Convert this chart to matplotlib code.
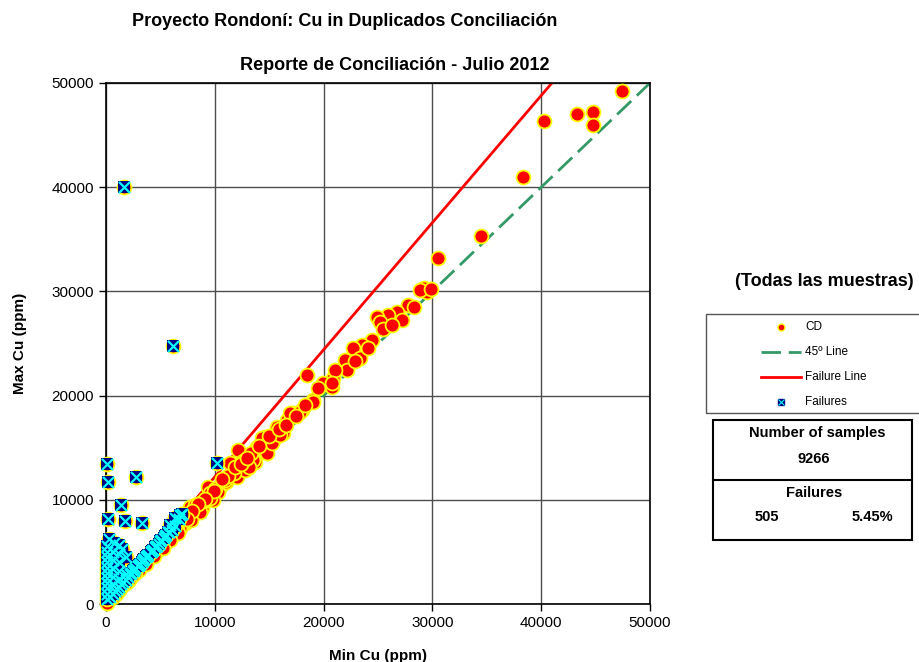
import matplotlib.pyplot as plt
from matplotlib.lines import Line2D
from matplotlib.patches import Rectangle

plt.rcParams['font.family'] = ['Liberation Sans', 'DejaVu Sans']

# CD duplicates (min, max)
cd_min = [47400, 44750, 44750, 43300, 40250, 38350, 34450, 30500,
          29200, 29500, 28900, 27750, 26750, 25900, 24900, 25200, 25450, 24450,
          23550, 22700, 23350, 21950, 22150, 20850, 21050, 19950, 20750, 18500,
          19000, 18000, 17200, 16650, 16250, 15700, 15350, 14600, 14350, 13900,
          13700, 14800, 12950, 12150, 11400, 12050, 12750, 10500, 10300, 9850,
          9400, 8200, 7700, 8650, 13500, 13150, 9550, 10000, 15250, 16000, 16900,
          17800, 19000, 19500, 20750, 29900, 28300, 27200, 26300, 24100, 22900,
          8800, 8400, 8000, 8200, 7600, 7300, 7000, 7200, 6800, 6500, 6200, 6000,
          5700, 5400, 5100, 4800, 4500, 4200, 3900, 3600, 3300, 3000, 2700, 2400,
          2100, 1800, 1500, 1200, 900, 600, 300, 100, 9000, 9600, 8600, 7800,
          6600, 5900, 5200, 4400, 3700, 11000, 11800, 12600, 13300, 10900,
          11200, 11900, 12400, 13000, 14100, 15000, 15900, 16500, 17500, 18300,
          10700, 9900, 9100, 8500, 7900, 7400]
cd_max = [49200, 47200, 45950, 47000, 46400, 40950, 35300, 33200,
          30300, 29950, 30100, 28700, 28000, 27750, 27550, 27050, 26400, 25350,
          24850, 24550, 23600, 23400, 22450, 21700, 22450, 21200, 20800, 21950,
          19600, 18600, 18300, 17650, 16400, 17000, 15750, 16000, 15900, 15050,
          13650, 14500, 14100, 14800, 13550, 12200, 12850, 11250, 10750, 10000,
          11250, 8750, 9300, 9700, 13800, 13150, 10650, 11000, 15450, 16200, 18300,
          18400, 19400, 20700, 21200, 30200, 28500, 27300, 26800, 24600, 23300,
          9200, 8900, 8700, 9500, 8300, 7800, 7700, 8600, 7300, 7200, 6700, 6900,
          6200, 5900, 5700, 5200, 5000, 4600, 4300, 3900, 3700, 3300, 3000, 2700,
          2300, 2000, 1700, 1350, 1000, 700, 350, 120, 9900, 10200, 8800, 8100,
          6800, 6100, 5400, 4600, 3800, 11700, 12600, 13700, 14500, 11900,
          12300, 13100, 13400, 14000, 15200, 16100, 16800, 17200, 18000, 19100,
          12000, 10800, 10100, 9600, 8900, 8200]

# failures (min, max)
fail_min = [1700, 6150, 100, 200, 2750, 1400, 200, 1750, 3300, 10200, 6800, 6350, 5900,
            100, 100, 100, 100, 100, 100, 100, 100, 100, 100, 100,
            600, 600, 600, 600, 600, 600,
            1200, 1200, 1200, 1200, 1200, 1200,
            1800, 1800, 1800,
            2300, 2700, 3100, 3500, 3900, 4300, 4700, 5100, 5500, 6300, 6700, 7000,
            2500, 2900, 3300, 3700, 4100, 4500, 4900, 5300, 5700, 6100,
            400, 800, 1000, 1400, 1600, 2000, 2200, 2600, 3000, 3400, 3800, 4200,
            4600, 5000, 5400, 5800, 300, 700, 1500]
fail_max = [40000, 24750, 13450, 11700, 12200, 9500, 8150, 7950, 7750, 13500, 8550, 8250, 7600,
            500, 1000, 1500, 2000, 2500, 3000, 3500, 4000, 4500, 5000, 5600,
            1000, 1800, 2600, 3400, 4200, 5000,
            1600, 2400, 3200, 4000, 4800, 5700,
            2300, 2900, 4500,
            3000, 3500, 3800, 4300, 4700, 5200, 5600, 6100, 6600, 7500, 8200, 8600,
            3200, 3600, 4000, 4500, 5000, 5500, 5800, 6300, 6900, 7100,
            700, 1200, 1400, 1900, 2100, 2600, 2900, 3300, 3700, 4200, 4600, 5100,
            5600, 6000, 6500, 6900, 6200, 5900, 5300]

ticks = [0, 10000, 20000, 30000, 40000, 50000]
failure_slope = 1.22

W, H = 919, 662


def fx(px):
    return px / W


def fy(py):
    return 1 - py / H


fig = plt.figure(figsize=(W / 100, H / 100), dpi=100)
ax = fig.add_axes([fx(106), fy(604), (650 - 106) / W, (604 - 83) / H])

ax.set_xlim(0, 50000)
ax.set_ylim(0, 50000)
ax.set_xticks(ticks)
ax.set_yticks(ticks)
ax.set_xticklabels([str(t) for t in ticks])
ax.set_yticklabels([str(t) for t in ticks])
ax.tick_params(labelsize=11, length=5, width=1, direction='out')
ax.grid(True, color='#4d4d4d', lw=1)
ax.set_axisbelow(True)
for s in ax.spines.values():
    s.set_linewidth(1.2)
    s.set_color('black')

ax.plot([0, 50000], [0, 50000], color='#339966', lw=2, dashes=(7, 2.8), zorder=2)
ax.plot([0, 50000], [0, 50000 * failure_slope], color='#ff0000', lw=2, zorder=2)

ax.scatter(cd_min + fail_min, cd_max + fail_max, s=100, c='#ff0000',
           edgecolors='#ffff00', linewidths=1.3, zorder=3, clip_on=False)
ax.scatter(fail_min, fail_max, s=64, marker='s', c='#000080', linewidths=0,
           zorder=4, clip_on=False)
ax.scatter(fail_min, fail_max, s=64, marker='x', c='#00ffff', linewidths=1.6,
           zorder=5, clip_on=False)

ax.set_xlabel('Min Cu (ppm)', fontsize=11, fontweight='bold', labelpad=14)
ax.set_ylabel('Max Cu (ppm)', fontsize=11, fontweight='bold', labelpad=18)

fig.text(fx(345), fy(22), 'Proyecto Rondoní: Cu in Duplicados Conciliación',
         ha='center', va='center', fontsize=13, fontweight='bold')
fig.text(fx(395), fy(65), 'Reporte de Conciliación - Julio 2012',
         ha='center', va='center', fontsize=13, fontweight='bold')
fig.text(fx(824), fy(282), '(Todas las muestras)', ha='center', va='center',
         fontsize=13, fontweight='bold')

# legend box
fig.add_artist(Rectangle((fx(706), fy(413)), (930 - 706) / W, (413 - 314) / H,
                         transform=fig.transFigure, fill=False, ec='#555555', lw=1))
fig.add_artist(Line2D([fx(781)], [fy(327)], marker='o', ms=5, mfc='#ff0000',
                      mec='#ffff00', mew=1, transform=fig.transFigure))
fig.add_artist(Line2D([fx(761), fx(801)], [fy(352), fy(352)], color='#339966', lw=2,
                      dashes=(7, 2.8), transform=fig.transFigure))
fig.add_artist(Line2D([fx(761), fx(801)], [fy(377), fy(377)], color='#ff0000', lw=2,
                      transform=fig.transFigure))
fig.add_artist(Line2D([fx(781)], [fy(402)], marker='s', ms=5, mfc='#000080',
                      mec='#000080', transform=fig.transFigure))
fig.add_artist(Line2D([fx(781)], [fy(402)], marker='x', ms=4, mec='#00ffff', mew=0.8,
                      transform=fig.transFigure))
for label, py in [('CD', 327), ('45º Line', 352), ('Failure Line', 377), ('Failures', 402)]:
    fig.text(fx(805), fy(py), label, ha='left', va='center', fontsize=8.5)

# summary table
fig.add_artist(Rectangle((fx(713), fy(540)), (912 - 713) / W, (540 - 420) / H,
                         transform=fig.transFigure, fill=False, ec='black', lw=1.5))
fig.add_artist(Line2D([fx(713), fx(912)], [fy(480), fy(480)], color='black', lw=1.5,
                      transform=fig.transFigure))
fig.text(fx(817), fy(433), 'Number of samples', ha='center', va='center', fontsize=10.5, fontweight='bold')
fig.text(fx(814), fy(459), '9266', ha='center', va='center', fontsize=10.5, fontweight='bold')
fig.text(fx(814), fy(493), 'Failures', ha='center', va='center', fontsize=10.5, fontweight='bold')
fig.text(fx(767), fy(517), '505', ha='center', va='center', fontsize=10.5, fontweight='bold')
fig.text(fx(872), fy(517), '5.45%', ha='center', va='center', fontsize=10.5, fontweight='bold')

fig.savefig('out.png', dpi=100)
